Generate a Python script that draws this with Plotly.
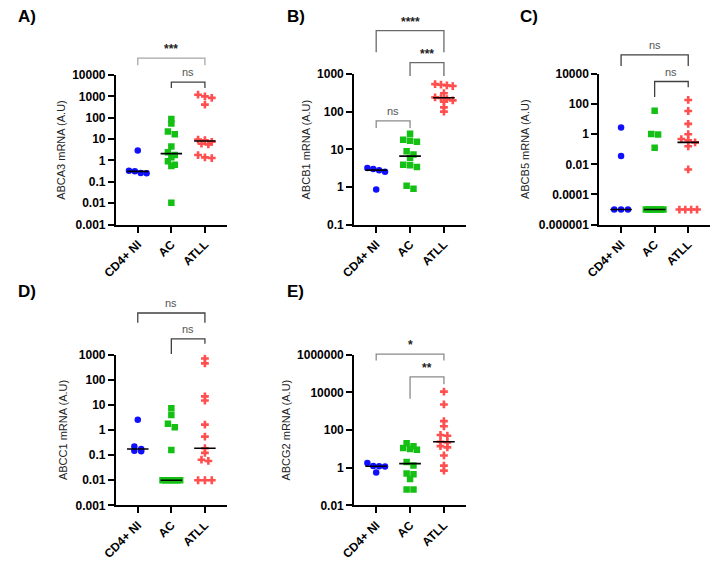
import numpy as np
import plotly.graph_objects as go

W, H = 712, 561
groups = ["CD4+ NI", "AC", "ATLL"]

# ---------------- data ----------------
abca3_cd4 = [2.9, 0.33, 0.31, 0.26, 0.25]
abca3_ac = [87, 54, 23, 17, 4.5, 2.4, 1.8, 1.4, 0.92, 0.63, 0.55, 0.0104]
abca3_atll = [1200, 1000, 850, 410, 9.5, 8.9, 7.5, 6.1, 5.7, 1.8, 1.4, 1.3]

abcb1_cd4 = [3.2, 3.0, 2.8, 2.55, 0.85]
abcb1_ac = [26, 18, 17, 16, 8.9, 7.3, 5.9, 3.9, 3.8, 3.4, 1.08, 0.9]
abcb1_atll = [540, 520, 500, 480, 310, 240, 230, 215, 200, 185, 130, 100]

abcb5_cd4 = [2.8, 0.036, 0.00001, 0.00001, 0.00001]
abcb5_ac = [37, 1.05, 0.95, 0.126, 0.00001, 0.00001, 0.00001, 0.00001,
            0.00001, 0.00001, 0.00001, 0.00001]
abcb5_atll = [190, 35, 4.9, 1.0, 0.48, 0.39, 0.29, 0.16, 0.0046,
              0.00001, 0.00001, 0.00001, 0.00001]

abcc1_cd4 = [2.6, 0.22, 0.176, 0.15, 0.145]
abcc1_ac = [7.4, 4.0, 1.8, 1.3, 0.16, 0.01, 0.01, 0.01, 0.01, 0.01, 0.01, 0.01]
abcc1_atll = [710, 455, 22, 15, 1.65, 0.55, 0.19, 0.123, 0.066, 0.059,
              0.01, 0.01, 0.01]

abcg2_cd4 = [1.8, 1.25, 1.2, 1.15, 0.55]
abcg2_ac = [20, 14, 11, 10, 9, 2.0, 1.3, 0.5, 0.45, 0.25, 0.07, 0.07]
abcg2_atll = [11000, 2300, 300, 160, 55, 50, 24, 22, 14, 12, 4.5, 1.3, 0.7]

y_titles = ["ABCA3 mRNA (A.U)", "ABCB1 mRNA (A.U)", "ABCB5 mRNA (A.U)",
            "ABCC1 mRNA (A.U)", "ABCG2 mRNA (A.U)"]
panel_letters = ["A)", "B)", "C)", "D)", "E)"]
decade_ranges = [(-3, 4), (-1, 3), (-6, 4), (-3, 3), (-2, 6)]
tick_exps = [list(range(-3, 5)), list(range(-1, 4)), [-6, -4, -2, 0, 2, 4],
             list(range(-3, 4)), [-2, 0, 2, 4, 6]]
series = [
    (abca3_cd4, abca3_ac, abca3_atll),
    (abcb1_cd4, abcb1_ac, abcb1_atll),
    (abcb5_cd4, abcb5_ac, abcb5_atll),
    (abcc1_cd4, abcc1_ac, abcc1_atll),
    (abcg2_cd4, abcg2_ac, abcg2_atll),
]
# significance labels: (group_a, group_b, label)
sig_tests = [
    [(0, 2, "***"), (1, 2, "ns")],
    [(0, 2, "****"), (1, 2, "***"), (0, 1, "ns")],
    [(0, 2, "ns"), (1, 2, "ns")],
    [(0, 2, "ns"), (1, 2, "ns")],
    [(0, 2, "*"), (1, 2, "**")],
]

# ---------------- layout geometry (pixels) ----------------
# (x_left, x_right, y_top, y_bottom) of each plotting area
boxes = [(104, 217, 70, 224), (347, 461, 69, 224), (597, 710, 69, 224),
         (104, 217, 358, 513), (347, 461, 358, 513)]
# bracket geometry: (top, left leg end, right leg end, label y, color)
bracket_geo = [
    [(52.7, 60, 60, 43, "#a6a6a6"), (77.3, 83.5, 83.5, 67, "#404040")],
    [(24.3, 46.7, 46.7, 15, "#6a6a6a"), (57.3, 71, 71, 48.5, "#6a6a6a"),
     (117.3, 124.5, 124.5, 107.5, "#8a8a8a")],
    [(49.3, 60.7, 60.7, 39.5, "#404040"), (76.7, 92.7, 82.7, 67.3, "#404040")],
    [(315, 325, 325, 305, "#404040"), (341.7, 357.3, 346.7, 331.7, "#404040")],
    [(357.3, 364, 364, 348.3, "#8a8a8a"), (380.7, 403.3, 388.3, 371.7, "#8a8a8a")],
]
ytitle_x = [48, 298, 522, 50, 278]
letter_pos = [(2, 10), (276, 10), (514, 10), (2, 293), (276, 293)]
XR = (-0.65, 2.65)

colors = ["#1010ff", "#14c014", "#ff4f4f"]
symbols = ["circle", "square", "cross"]
msizes = [6.5, 6.5, 6.5]
FONT = "Liberation Sans, Arial, sans-serif"


def px(xp):
    return xp / W


def py(yp):
    return 1 - yp / H


def fmt(e):
    if e >= 0:
        return str(10 ** e)
    return "0." + "0" * (-e - 1) + "1"


def swarm(vals, px_per_dec, px_per_unit, thresh=4.0, step=7.0, maxspan=18.0):
    vals = np.asarray(vals, float)
    order = np.argsort(-vals, kind="stable")
    ypx = np.log10(vals) * px_per_dec
    offs = np.zeros(len(vals))
    grp_list, cur = [], [order[0]]
    for idx in order[1:]:
        if ypx[cur[0]] - ypx[idx] <= thresh:
            cur.append(idx)
        else:
            grp_list.append(cur)
            cur = [idx]
    grp_list.append(cur)
    for g in grp_list:
        n = len(g)
        if n == 1:
            continue
        s = min(step, maxspan / (n - 1))
        for k, idx in enumerate(g):
            offs[idx] = (k - (n - 1) / 2) * s
    return offs / px_per_unit


fig = go.Figure()
shapes, annotations = [], []
layout_axes = {}

for p in range(5):
    n = p + 1
    xa, ya = f"x{n}", f"y{n}"
    xl, xr, yt, yb = boxes[p]
    lo, hi = decade_ranges[p]
    px_per_dec = (yb - yt) / (hi - lo)
    px_per_unit = (xr - xl) / (XR[1] - XR[0])

    for gi, vals in enumerate(series[p]):
        offs = swarm(vals, px_per_dec, px_per_unit)
        fig.add_trace(go.Scatter(
            x=gi + offs, y=vals, mode="markers", xaxis=xa, yaxis=ya,
            marker=dict(symbol=symbols[gi], color=colors[gi], size=msizes[gi],
                        line=dict(width=0)),
            hoverinfo="y", showlegend=False))
    for gi, vals in enumerate(series[p]):
        med = float(np.median(vals))
        fig.add_trace(go.Scatter(
            x=[gi - 0.32, gi + 0.32], y=[med, med], mode="lines",
            xaxis=xa, yaxis=ya, line=dict(color="black", width=1.6),
            hoverinfo="skip", showlegend=False))

    axis_common = dict(showgrid=False, zeroline=False, showline=True,
                       linecolor="black", linewidth=2, ticks="outside",
                       ticklen=6, tickwidth=2, tickcolor="black",
                       tickfont=dict(family=FONT, size=12, color="black",
                                     weight="bold"))
    layout_axes[f"xaxis{n}"] = dict(
        axis_common, domain=[px(xl), px(xr)], anchor=ya, range=list(XR),
        tickmode="array", tickvals=[0, 1, 2], ticktext=groups, tickangle=-45)
    exps = tick_exps[p]
    layout_axes[f"yaxis{n}"] = dict(
        axis_common, domain=[py(yb), py(yt)], anchor=xa, type="log",
        range=[lo, hi], tickmode="array", tickvals=[10.0 ** e for e in exps],
        ticktext=[fmt(e) for e in exps])

    # significance brackets
    for (ga, gb, lab), (top, lleg, rleg, ly, col) in zip(sig_tests[p], bracket_geo[p]):
        path = (f"M {ga},{py(lleg)} L {ga},{py(top)} L {gb},{py(top)} "
                f"L {gb},{py(rleg)}")
        shapes.append(dict(type="path", path=path, xref=xa, yref="paper",
                           line=dict(color=col, width=1.3)))
        is_ns = lab == "ns"
        annotations.append(dict(
            x=(ga + gb) / 2, y=py(ly), xref=xa, yref="paper", text=lab,
            showarrow=False, xanchor="center", yanchor="middle",
            font=dict(family=FONT, size=11 if is_ns else 12,
                      color="#555555" if is_ns else "#222222",
                      weight="normal" if is_ns else "bold")))

    annotations.append(dict(
        x=px(ytitle_x[p]), y=py((yt + yb) / 2), xref="paper", yref="paper",
        text=y_titles[p], textangle=-90, showarrow=False,
        xanchor="center", yanchor="middle",
        font=dict(family=FONT, size=11, color="#222222")))
    lx, ly = letter_pos[p]
    annotations.append(dict(
        x=px(lx), y=py(ly), xref="paper", yref="paper", text=panel_letters[p],
        showarrow=False, xanchor="left", yanchor="middle",
        font=dict(family=FONT, size=17, color="black", weight="bold")))

fig.update_layout(
    width=W, height=H, margin=dict(l=0, r=0, t=0, b=0),
    paper_bgcolor="white", plot_bgcolor="white", showlegend=False,
    shapes=shapes, annotations=annotations, **layout_axes)

fig.write_html("out.html")
